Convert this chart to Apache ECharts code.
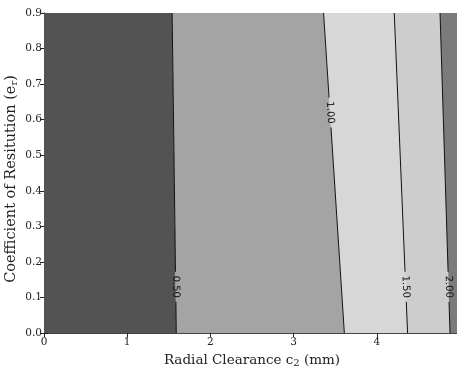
<!DOCTYPE html>
<html><head><meta charset="utf-8">
<script src="https://cdn.jsdelivr.net/npm/echarts@6/dist/echarts.min.js"></script>
<style>html,body{margin:0;padding:0;background:#fff}#c{width:457px;height:369px}</style>
</head><body><div id="c"></div>
<script>
// Contour levels and where each contour line crosses y=0 and y=0.9
var levels = ['0.50', '1.00', '1.50', '2.00'];
var xAtBottom = [1.59, 3.61, 4.37, 4.88];
var xAtTop = [1.54, 3.36, 4.21, 4.76];
var labelY = [0.13, 0.62, 0.13, 0.13];
var bandColors = ['#535353', '#a4a4a4', '#d7d7d7', '#cdcdcd', '#7b7b7b'];
var xTicks = [0, 1, 2, 3, 4, 5];
var yTicks = [0.0, 0.1, 0.2, 0.3, 0.4, 0.5, 0.6, 0.7, 0.8, 0.9];
var xMin = 0, xMax = 5, yMin = 0, yMax = 0.9;

var bands = [];
var lb = [xMin].concat(xAtBottom), lt = [xMin].concat(xAtTop);
var rb = xAtBottom.concat([xMax]), rt = xAtTop.concat([xMax]);
for (var i = 0; i < bandColors.length; i++) bands.push([lb[i], lt[i], rb[i], rt[i], i]);
var lines = [];
for (var j = 0; j < levels.length; j++) lines.push([xAtBottom[j], xAtTop[j], labelY[j], j]);

var chart = echarts.init(document.getElementById('c'), null, {renderer: 'canvas'});
var serif = 'DejaVu Serif';
var tickStyle = {inside: true, length: 4, lineStyle: {color: '#222', width: 1}};
var axisLine = {show: true, lineStyle: {color: '#444', width: 1}};
chart.setOption({
  animation: false,
  grid: {left: 44, top: 13, right: -3, bottom: 36, outerBoundsMode: 'none', containLabel: false},
  xAxis: [{
    type: 'value', min: xMin, max: xMax, interval: 1,
    axisLine: axisLine, axisTick: tickStyle, splitLine: {show: false},
    axisLabel: {fontFamily: serif, fontSize: 10.5, color: '#222', margin: 4, hideOverlap: false},
    name: 'Radial Clearance c{s|2} (mm)', nameLocation: 'middle', nameGap: 18,
    nameTextStyle: {fontFamily: serif, fontSize: 13.5, color: '#222', lineHeight: 16,
      rich: {s: {fontFamily: serif, fontSize: 10, lineHeight: 16, verticalAlign: 'bottom', padding: [5, 0, 0, 0]}}}
  }, {
    type: 'value', min: xMin, max: xMax, interval: 1, position: 'top',
    axisLine: axisLine, axisTick: tickStyle, axisLabel: {show: false}, splitLine: {show: false}
  }],
  yAxis: [{
    type: 'value', min: yMin, max: yMax, interval: 0.1,
    axisLine: axisLine, axisTick: tickStyle, splitLine: {show: false},
    axisLabel: {fontFamily: serif, fontSize: 10.5, color: '#222', margin: 2,
      formatter: function (v) { return v.toFixed(1); }},
    name: 'Coefficient of Resitution (e{s|r})', nameLocation: 'middle', nameGap: 25, nameMoveOverlap: false,
    nameTextStyle: {fontFamily: serif, fontSize: 14.5, color: '#222', lineHeight: 16, padding: [0, 12, 0, 0],
      rich: {s: {fontFamily: serif, fontSize: 10, lineHeight: 16, verticalAlign: 'bottom', padding: [5, 0, 0, 0]}}}
  }, {
    type: 'value', min: yMin, max: yMax, interval: 0.1, position: 'right',
    axisLine: axisLine, axisTick: tickStyle, axisLabel: {show: false}, splitLine: {show: false}
  }],
  series: [{
    type: 'custom', clip: true, z: 1,
    data: bands,
    renderItem: function (params, api) {
      var p1 = api.coord([api.value(0), yMin]);
      var p2 = api.coord([api.value(1), yMax]);
      var p3 = api.coord([api.value(3), yMax]);
      var p4 = api.coord([api.value(2), yMin]);
      return {type: 'polygon', shape: {points: [p1, p2, p3, p4]},
        style: {fill: bandColors[api.value(4)], stroke: null}};
    }
  }, {
    type: 'custom', clip: true, z: 3,
    data: lines,
    renderItem: function (params, api) {
      var xb = api.value(0), xt = api.value(1), ly = api.value(2), k = api.value(3);
      var pb = api.coord([xb, yMin]);
      var pt = api.coord([xt, yMax]);
      var lx = xb + (xt - xb) * (ly - yMin) / (yMax - yMin);
      var pl = api.coord([lx, ly]);
      var dx = pt[0] - pb[0], dy = pt[1] - pb[1];
      var len = Math.sqrt(dx * dx + dy * dy);
      var ux = dx / len, uy = dy / len;
      var gap = 15;
      var g1 = [pl[0] - ux * gap, pl[1] - uy * gap];
      var g2 = [pl[0] + ux * gap, pl[1] + uy * gap];
      var ang = Math.atan2(-dy, dx);
      var rot = ang - Math.PI;
      return {type: 'group', children: [
        {type: 'line', shape: {x1: pb[0], y1: pb[1], x2: g1[0], y2: g1[1]}, style: {stroke: '#111', lineWidth: 1}},
        {type: 'line', shape: {x1: g2[0], y1: g2[1], x2: pt[0], y2: pt[1]}, style: {stroke: '#111', lineWidth: 1}},
        {type: 'text', x: pl[0], y: pl[1], rotation: rot,
          style: {text: levels[k], fill: '#111', font: '10px "DejaVu Sans"', align: 'center', verticalAlign: 'middle'}}
      ]};
    }
  }]
});
</script></body></html>
